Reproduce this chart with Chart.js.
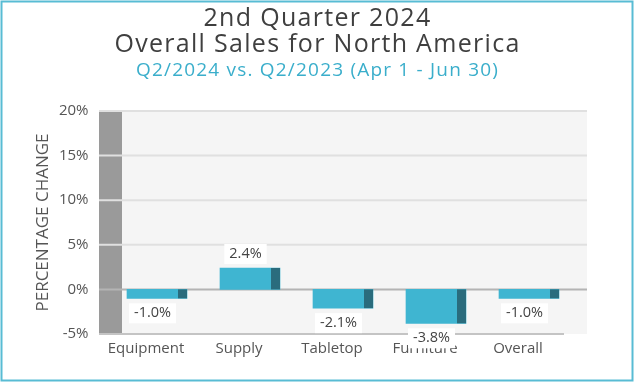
<!DOCTYPE html>
<html>
<head>
<meta charset="utf-8">
<script src="https://cdn.jsdelivr.net/npm/chart.js@4.4.1/dist/chart.umd.min.js"></script>
<style>
  html, body { margin: 0; padding: 0; background: #fff; }
  #wrap { width: 635px; height: 383px; position: relative; }
</style>
</head>
<body>
<div id="wrap"><canvas id="myChart"></canvas></div>
<script>
    // Datos del gráfico
    const categorias = ['Equipment', 'Supply', 'Tabletop', 'Furniture', 'Overall'];
    const cambios = [-1.0, 2.4, -2.1, -3.8, -1.0];
    const ejeMin = -5;
    const ejeMax = 20;
    const ejePaso = 5;
    const titulos = ['2nd Quarter 2024', 'Overall Sales for North America'];
    const subtitulo = 'Q2/2024 vs. Q2/2023 (Apr 1 - Jun 30)';

    const fuente = '"Open Sans", Lato, sans-serif';
    const profundidad = 11.5; // desplazamiento del efecto 3D
    const lado = 9; // ancho de la cara lateral de cada barra

    // Paredes, líneas de la grilla y piso
    const paredes = {
        id: 'paredes',
        beforeDatasetsDraw(chart) {
            const { ctx, chartArea: a, scales: { y } } = chart;
            const izq = a.left - profundidad;
            const der = a.right + profundidad;
            ctx.save();
            ctx.fillStyle = '#f5f5f5';
            ctx.fillRect(a.left + profundidad, a.top, a.right - a.left, a.bottom - a.top);
            ctx.fillStyle = '#9a9a9a';
            ctx.fillRect(izq, a.top, profundidad * 2, a.bottom - a.top);
            y.ticks.forEach(t => {
                const py = y.getPixelForValue(t.value);
                if (t.value === ejeMin) return;
                ctx.strokeStyle = t.value === 0 ? '#b4b4b4' : '#e0e0e0';
                ctx.lineWidth = 2;
                ctx.beginPath();
                ctx.moveTo(izq, py);
                ctx.lineTo(der, py);
                ctx.stroke();
            });
            // piso
            const pb = y.getPixelForValue(ejeMin);
            ctx.strokeStyle = '#c4c4c4';
            ctx.lineWidth = 2;
            ctx.beginPath();
            ctx.moveTo(izq, pb);
            ctx.lineTo(a.right - profundidad, pb);
            ctx.stroke();
            ctx.restore();
        },
        afterDatasetsDraw(chart) {
            const { ctx } = chart;
            const meta = chart.getDatasetMeta(0);
            ctx.save();
            meta.data.forEach((bar, i) => {
                const der = bar.x + bar.width / 2;
                const top = Math.min(bar.y, bar.base);
                const alto = Math.abs(bar.base - bar.y);
                // cara lateral oscura
                ctx.fillStyle = '#2a6c7d';
                ctx.fillRect(der - lado, top, lado, alto);

                // etiqueta con fondo blanco
                const v = cambios[i];
                const texto = v.toFixed(1) + '%';
                ctx.font = '14.5px ' + fuente;
                const w = ctx.measureText(texto).width + 10;
                const cx = bar.x - lado / 2;
                const cy = v >= 0 ? bar.y - 14 : bar.y + 15;
                ctx.fillStyle = '#ffffff';
                ctx.fillRect(cx - w / 2, cy - 10, w, 20);
                ctx.fillStyle = '#444444';
                ctx.textAlign = 'center';
                ctx.textBaseline = 'middle';
                ctx.fillText(texto, cx, cy);
            });
            ctx.restore();
        },
        afterDraw(chart) {
            const { ctx } = chart;
            ctx.save();
            // títulos (con espaciado entre letras)
            const cx = chart.width / 2;
            ctx.textAlign = 'center';
            ctx.textBaseline = 'middle';
            ctx.fillStyle = '#3f3f3f';
            ctx.font = '25px ' + fuente;
            ctx.letterSpacing = '1.3px';
            ctx.fillText(titulos[0], cx, 19);
            ctx.fillText(titulos[1], cx, 45);
            ctx.fillStyle = '#3aaecb';
            ctx.font = '19px ' + fuente;
            ctx.letterSpacing = '1.2px';
            ctx.fillText(subtitulo, cx, 71);
            ctx.letterSpacing = '0px';
            // borde
            ctx.strokeStyle = '#58bcd4';
            ctx.lineWidth = 2;
            ctx.strokeRect(1.5, 1.5, chart.width - 4, chart.height - 4);
            ctx.restore();
        }
    };

    const ctx = document.getElementById('myChart').getContext('2d');
    const myChart = new Chart(ctx, {
        type: 'bar',
        data: {
            labels: categorias,
            datasets: [{
                label: 'Percentage change',
                data: cambios,
                backgroundColor: '#3fb5d1',
                borderWidth: 0,
                barThickness: 60
            }]
        },
        options: {
            responsive: true,
            maintainAspectRatio: false,
            animation: false,
            layout: { padding: { top: 111, left: 3, right: 59.5, bottom: 19 } },
            plugins: {
                legend: { display: false },
                tooltip: { enabled: false }
            },
            scales: {
                x: {
                    grid: { display: false, drawTicks: false },
                    border: { display: false },
                    ticks: {
                        color: '#555555',
                        font: { family: fuente, size: 15 },
                        labelOffset: -11,
                        padding: 6
                    }
                },
                y: {
                    min: ejeMin,
                    max: ejeMax,
                    grid: { display: false, drawTicks: false },
                    border: { display: false },
                    afterFit(scale) { scale.width = 107.5; },
                    ticks: {
                        stepSize: ejePaso,
                        color: '#555555',
                        font: { family: fuente, size: 15 },
                        padding: 22,
                        callback: v => v + '%'
                    },
                    title: {
                        display: true,
                        text: 'PERCENTAGE CHANGE',
                        color: '#555555',
                        font: { family: fuente, size: 17 },
                        padding: { top: 30, bottom: 0 }
                    }
                }
            }
        },
        plugins: [paredes]
    });
</script>
</body>
</html>
